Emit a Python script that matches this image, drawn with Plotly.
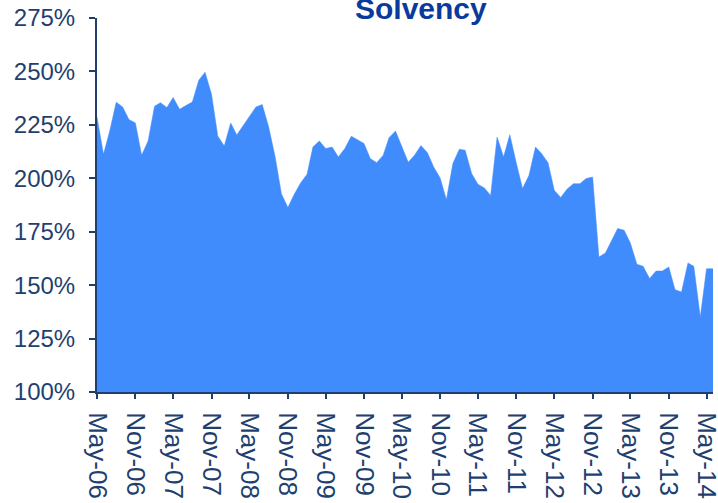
import pandas as pd
import plotly.graph_objects as go

# monthly solvency ratio, May-06 .. Jun-14 (%)
months = pd.date_range("2006-05-01", "2014-06-01", freq="MS").strftime("%Y-%m-%d").tolist()
solvency = [
    228.7, 211.2, 222.1, 235.6, 233.4, 227.5, 225.9, 210.8, 217.5, 233.7,
    235.4, 233.1, 237.8, 232.3, 234.0, 235.7, 245.9, 249.6, 239.3, 219.8,
    215.1, 225.9, 220.3, 224.7, 229.0, 233.4, 234.5, 224.0, 210.0, 192.8,
    186.3, 192.4, 197.8, 201.9, 214.6, 217.5, 213.9, 214.6, 210.0, 213.9,
    219.7, 218.0, 216.3, 209.2, 207.3, 210.8, 219.0, 222.1, 214.6, 207.5,
    210.8, 215.3, 212.0, 205.3, 200.1, 190.0, 206.9, 213.6, 213.1, 202.2,
    197.2, 195.5, 192.0, 219.3, 210.0, 220.4, 207.2, 195.2, 201.4, 214.6,
    211.6, 207.3, 194.4, 191.0, 194.9, 197.5, 197.5, 199.9, 200.6, 163.2,
    165.0, 171.0, 176.5, 175.7, 169.7, 159.8, 158.8, 153.1, 156.6, 156.6,
    158.5, 147.9, 146.8, 160.4, 158.8, 135.1, 157.7, 157.7,
]
y_ticks = [100, 125, 150, 175, 200, 225, 250, 275]
y_labels = [f"{v}%" for v in y_ticks]

axis_col = "#1F3F6E"
fill_col = "#418CFC"

fig = go.Figure()
fig.add_trace(go.Scatter(
    x=months, y=solvency, mode="lines", fill="tozeroy",
    fillcolor=fill_col, line=dict(color=fill_col, width=0.5),
    hovertemplate="%{x|%b-%y}: %{y:.1f}%<extra></extra>",
))

fig.update_layout(
    width=718, height=503,
    margin=dict(l=97, r=5, t=18, b=111),
    paper_bgcolor="white", plot_bgcolor="white",
    showlegend=False,
    font=dict(family="Liberation Sans, Arial, sans-serif", size=24, color=axis_col),
)
fig.add_annotation(
    text="<b>Solvency</b>", xref="paper", yref="paper",
    x=0.526, y=0.975, xanchor="center", yanchor="bottom", showarrow=False,
    font=dict(size=30, color="#0B3A9C"),
)
fig.update_xaxes(
    range=[months[0], months[-1]], automargin=False,
    tick0=months[0], dtick="M6", tickformat="%b-%y", tickangle=90,
    tickfont=dict(size=26), ticklabeloverflow="allow", ticklabelstandoff=8,
    showgrid=False, zeroline=False,
    showline=True, linecolor=axis_col, linewidth=2,
    ticks="outside", ticklen=5, tickwidth=2, tickcolor=axis_col,
)
fig.update_yaxes(
    range=[100, 275], tickvals=y_ticks, ticktext=y_labels, automargin=False,
    showgrid=False, zeroline=False,
    showline=True, linecolor=axis_col, linewidth=2,
    ticks="outside", ticklen=6, tickwidth=2, tickcolor=axis_col,
    ticklabelstandoff=9,
)

fig.write_html("out.html", config={"displayModeBar": False},
               post_script="document.body.style.margin='0';")
